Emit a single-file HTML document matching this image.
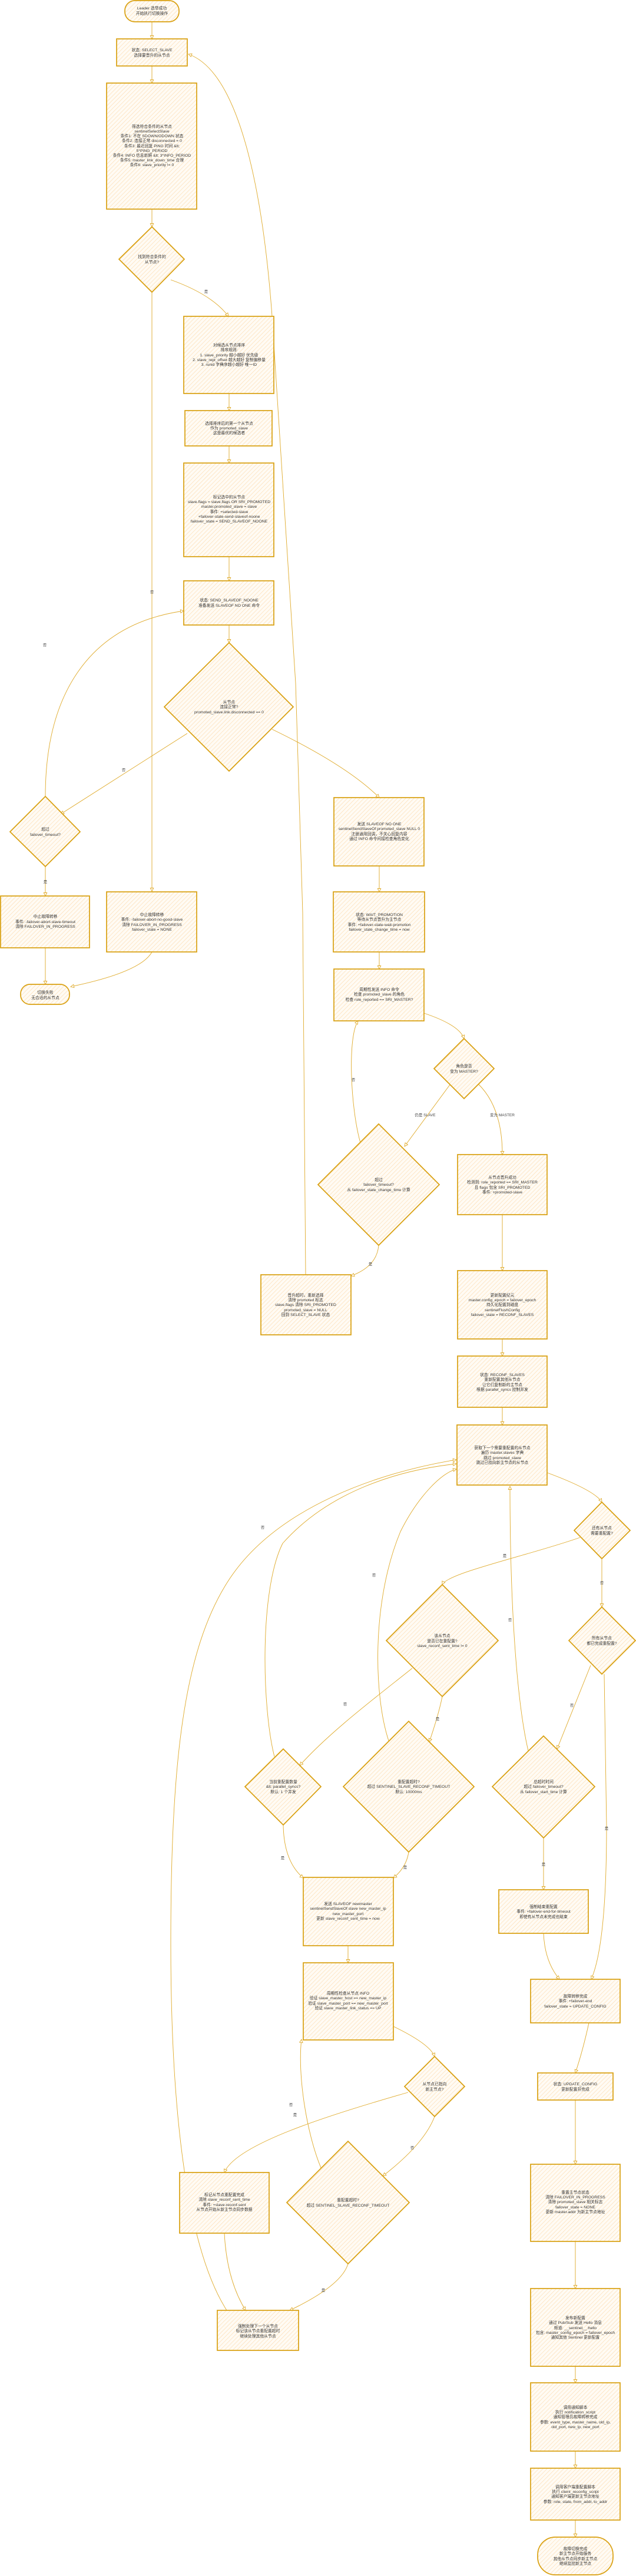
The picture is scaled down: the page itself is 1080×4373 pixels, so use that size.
<!DOCTYPE html>
<html><head><meta charset="utf-8">
<style>
html,body{margin:0;padding:0;background:#fff;}
svg{display:block;}
text{font-family:"Liberation Sans","Noto Sans CJK SC",sans-serif;font-size:6.8px;fill:#333;text-anchor:middle;}
.n{fill:url(#h);stroke:#d9a010;stroke-width:1.7;}
.e{fill:none;stroke:#dfaa2a;stroke-width:0.9;marker-end:url(#a);}
.l{font-size:6.5px;fill:#444;}
</style></head><body>
<svg width="1080" height="4373" viewBox="0 0 1080 4373" xmlns="http://www.w3.org/2000/svg">
<defs>
<pattern id="h" width="5" height="5" patternUnits="userSpaceOnUse" patternTransform="rotate(45)">
<rect width="5" height="5" fill="#fffbf4"/><line x1="0" y1="0" x2="0" y2="5" stroke="#fcdcb0" stroke-width="1.3"/>
</pattern>
<marker id="a" markerWidth="7" markerHeight="7" refX="6" refY="3.5" orient="auto" markerUnits="userSpaceOnUse">
<path d="M0.5,0.8 L6,3.5 L0.5,6.2 Z" fill="#fff" stroke="#dfaa2a" stroke-width="0.9"/>
</marker>
</defs>

<!-- EDGES -->
<path class="e" d="M258,37 L258,66"/>
<path class="e" d="M258,112 L258,141"/>
<path class="e" d="M258,355 L258,385"/>
<path class="e" d="M290,475 Q360,500 388,537"/><text class="l" x="350" y="497">是</text>
<path class="e" d="M258,496 L258,1513"/><text class="l" x="258" y="1007">否</text>
<path class="e" d="M389,668 L389,697"/>
<path class="e" d="M389,757 L389,786"/>
<path class="e" d="M389,945 L389,986"/>
<path class="e" d="M389,1061 L389,1091"/>
<path class="e" d="M318,1245 L103,1382"/><text class="l" x="210" y="1309">否</text>
<path class="e" d="M462,1238 Q590,1300 644,1354"/>
<path class="e" d="M77,1471 L77,1521"/><text class="l" x="77" y="1499">是</text>
<path class="e" d="M77,1352 C77,1180 150,1060 312,1037"/><text class="l" x="76" y="1097">否</text>
<path class="e" d="M77,1609 L77,1671"/>
<path class="e" d="M258,1616 Q240,1650 120,1675"/>
<path class="e" d="M644,1470 L644,1514"/>
<path class="e" d="M644,1616 L644,1645"/>
<path class="e" d="M720,1720 Q780,1740 788,1763"/>
<path class="e" d="M765,1840 L687,1946"/><text class="l" x="722" y="1895">仍是 SLAVE</text>
<path class="e" d="M812,1840 Q853,1880 853,1960"/><text class="l" x="853" y="1895">变为 MASTER</text>
<path class="e" d="M612,1940 C595,1880 590,1760 608,1733"/><text class="l" x="600" y="1835">否</text>
<path class="e" d="M643,2114 Q640,2150 596,2166"/><text class="l" x="629" y="2148">是</text>
<path class="e" d="M519,2164 L514,1550 L502,1160 L466,600 C450,300 400,120 320,92"/>
<path class="e" d="M853,2062 L853,2157"/>
<path class="e" d="M853,2273 L853,2302"/>
<path class="e" d="M853,2389 L853,2419"/>
<path class="e" d="M929,2500 Q1010,2530 1022,2550"/>
<path class="e" d="M985,2610 C900,2640 760,2670 751,2690"/><text class="l" x="857" y="2643">是</text>
<path class="e" d="M1022,2646 L1022,2728"/><text class="l" x="1022" y="2689">否</text>
<path class="e" d="M751,2880 Q745,2910 729,2957"/><text class="l" x="743" y="2920">是</text>
<path class="e" d="M700,2832 C640,2880 560,2940 509,2997"/><text class="l" x="586" y="2895">否</text>
<path class="e" d="M1003,2827 L946,2969"/><text class="l" x="971" y="2897">否</text>
<path class="e" d="M1026,2842 L1030,3100 Q1030,3300 1004,3360"/><text class="l" x="1030" y="3106">是</text>
<path class="e" d="M923,3120 L923,3208"/><text class="l" x="923" y="3167">是</text>
<path class="e" d="M897,2972 C880,2900 866,2750 866,2523"/><text class="l" x="866" y="2752">否</text>
<path class="e" d="M923,3282 Q925,3330 950,3360"/>
<path class="e" d="M481,3098 Q482,3160 515,3188"/><text class="l" x="480" y="3156">是</text>
<path class="e" d="M466,2982 C445,2900 440,2700 480,2620 C560,2530 680,2495 775,2485"/><text class="l" x="446" y="2595">否</text>
<path class="e" d="M694,3144 Q690,3170 668,3188"/><text class="l" x="688" y="3172">是</text>
<path class="e" d="M660,2955 C635,2880 630,2720 680,2600 C710,2540 750,2500 775,2494"/><text class="l" x="635" y="2676">否</text>
<path class="e" d="M591,3303 L591,3332"/>
<path class="e" d="M668,3440 Q730,3470 738,3491"/>
<path class="e" d="M693,3552 C560,3590 400,3640 381,3688"/><text class="l" x="501" y="3592">是</text>
<path class="e" d="M738,3593 Q720,3640 650,3694"/><text class="l" x="700" y="3648">否</text>
<path class="e" d="M545,3680 C520,3620 505,3520 512,3462"/><text class="l" x="494" y="3575">否</text>
<path class="e" d="M591,3843 Q580,3880 492,3922"/><text class="l" x="549" y="3890">是</text>
<path class="e" d="M381,3791 Q385,3870 417,3922"/>
<path class="e" d="M385,3922 C320,3820 290,3600 290,3300 C290,3000 310,2800 390,2680 C470,2560 640,2500 775,2478"/>
<path class="e" d="M1000,3434 Q990,3480 977,3519"/>
<path class="e" d="M977,3565 L977,3674"/>
<path class="e" d="M977,3805 L977,3885"/>
<path class="e" d="M977,4017 L977,4045"/>
<path class="e" d="M977,4161 L977,4190"/>
<path class="e" d="M977,4278 L977,4307"/>

<!-- NODES -->
<rect class="n" x="212" y="1" width="92" height="36" rx="17"/>
<text x="258" y="16">Leader 选举成功</text><text x="258" y="25">开始执行切换操作</text>

<rect class="n" x="198" y="66" width="120" height="46"/>
<text x="258" y="87">状态: SELECT_SLAVE</text><text x="258" y="96">选择要晋升的从节点</text>

<rect class="n" x="181" y="141" width="153" height="214"/>
<text x="258" y="217">筛选符合条件的从节点</text><text x="258" y="225">sentinelSelectSlave</text><text x="258" y="233">条件1: 不在 SDOWN/ODOWN 状态</text><text x="258" y="241">条件2: 连接正常 disconnected = 0</text><text x="258" y="250">条件3: 最近回复 PING 时间 &amp;lt;</text><text x="258" y="258">5*PING_PERIOD</text><text x="258" y="266">条件4: INFO 信息新鲜 &amp;lt; 3*INFO_PERIOD</text><text x="258" y="274">条件5: master_link_down_time 合理</text><text x="258" y="282">条件6: slave_priority != 0</text>

<polygon class="n" points="258,385 313,440 258,496 202,440"/>
<text x="258" y="438">找到符合条件的</text><text x="258" y="447">从节点?</text>

<rect class="n" x="312" y="537" width="153" height="131"/>
<text x="389" y="588">对候选从节点排序</text><text x="389" y="596">排序规则:</text><text x="389" y="605">1. slave_priority 越小越好 优先级</text><text x="389" y="613">2. slave_repl_offset 越大越好 复制偏移量</text><text x="389" y="621">3. runid 字典序越小越好 唯一ID</text>

<rect class="n" x="314" y="697" width="148" height="60"/>
<text x="389" y="721">选择排序后的第一个从节点</text><text x="389" y="729">作为 promoted_slave</text><text x="389" y="737">这是最优的候选者</text>

<rect class="n" x="312" y="786" width="153" height="159"/>
<text x="389" y="846">标记选中的从节点</text><text x="389" y="854">slave.flags = slave.flags OR SRI_PROMOTED</text><text x="389" y="862">master.promoted_slave = slave</text><text x="389" y="871">事件: +selected-slave</text><text x="389" y="879">+failover-state-send-slaveof-noone</text><text x="389" y="887">failover_state = SEND_SLAVEOF_NOONE</text>

<rect class="n" x="312" y="986" width="153" height="75"/>
<text x="389" y="1021">状态: SEND_SLAVEOF_NOONE</text><text x="389" y="1030">准备发送 SLAVEOF NO ONE 命令</text>

<polygon class="n" points="389,1091 498,1200 389,1309 279,1200"/>
<text x="389" y="1194">从节点</text><text x="389" y="1202">连接正常?</text><text x="389" y="1211">promoted_slave.link.disconnected == 0</text>

<polygon class="n" points="77,1352 136,1412 77,1471 17,1412"/>
<text x="77" y="1410">超过</text><text x="77" y="1419">failover_timeout?</text>

<rect class="n" x="1" y="1521" width="151" height="88"/>
<text x="77" y="1558">中止故障转移</text><text x="77" y="1567">事件: -failover-abort-slave-timeout</text><text x="77" y="1575">清除 FAILOVER_IN_PROGRESS</text>

<rect class="n" x="181" y="1514" width="153" height="102"/>
<text x="258" y="1555">中止故障转移</text><text x="258" y="1563">事件: -failover-abort-no-good-slave</text><text x="258" y="1572">清除 FAILOVER_IN_PROGRESS</text><text x="258" y="1580">failover_state = NONE</text>

<rect class="n" x="35" y="1671" width="83" height="34" rx="16"/>
<text x="77" y="1687">切换失败</text><text x="77" y="1696">无合适的从节点</text>

<rect class="n" x="567" y="1354" width="153" height="116"/>
<text x="644" y="1401">发送 SLAVEOF NO ONE</text><text x="644" y="1409">sentinelSendSlaveOf promoted_slave NULL 0</text><text x="644" y="1418">注册通用回调，不关心回复内容</text><text x="644" y="1426">通过 INFO 命令间接检查角色变化</text>

<rect class="n" x="566" y="1514" width="155" height="102"/>
<text x="644" y="1555">状态: WAIT_PROMOTION</text><text x="644" y="1563">等待从节点晋升为主节点</text><text x="644" y="1572">事件: +failover-state-wait-promotion</text><text x="644" y="1580">failover_state_change_time = now</text>

<rect class="n" x="567" y="1645" width="153" height="88"/>
<text x="644" y="1682">周期性发送 INFO 命令</text><text x="644" y="1690">检查 promoted_slave 的角色</text><text x="644" y="1699">检查 role_reported == SRI_MASTER?</text>

<polygon class="n" points="788,1763 839,1814 788,1865 737,1814"/>
<text x="788" y="1812">角色是否</text><text x="788" y="1821">变为 MASTER?</text>

<polygon class="n" points="643,1908 746,2011 643,2114 540,2011"/>
<text x="643" y="2005">超过</text><text x="643" y="2013">failover_timeout?</text><text x="643" y="2022">从 failover_state_change_time 计算</text>

<rect class="n" x="777" y="1960" width="152" height="102"/>
<text x="853" y="2001">从节点晋升成功</text><text x="853" y="2009">检测到: role_reported == SRI_MASTER</text><text x="853" y="2018">且 flags 包含 SRI_PROMOTED</text><text x="853" y="2026">事件: +promoted-slave</text>

<rect class="n" x="443" y="2164" width="153" height="102"/>
<text x="519" y="2201">晋升超时，重新选择</text><text x="519" y="2209">清除 promoted 标志</text><text x="519" y="2217">slave.flags 清除 SRI_PROMOTED</text><text x="519" y="2226">promoted_slave = NULL</text><text x="519" y="2234">回到 SELECT_SLAVE 状态</text>

<rect class="n" x="777" y="2157" width="152" height="116"/>
<text x="853" y="2201">更新配置纪元</text><text x="853" y="2209">master.config_epoch = failover_epoch</text><text x="853" y="2217">持久化配置到磁盘</text><text x="853" y="2226">sentinelFlushConfig</text><text x="853" y="2234">failover_state = RECONF_SLAVES</text>

<rect class="n" x="777" y="2302" width="152" height="87"/>
<text x="853" y="2336">状态: RECONF_SLAVES</text><text x="853" y="2344">重新配置其他从节点</text><text x="853" y="2353">让它们复制新的主节点</text><text x="853" y="2361">根据 parallel_syncs 控制并发</text>

<rect class="n" x="776" y="2419" width="153" height="102"/>
<text x="853" y="2460">获取下一个需要重配置的从节点</text><text x="853" y="2468">遍历 master.slaves 字典</text><text x="853" y="2477">跳过 promoted_slave</text><text x="853" y="2485">跳过已指向新主节点的从节点</text>

<polygon class="n" points="1022,2550 1070,2598 1022,2646 975,2598"/>
<text x="1022" y="2596">还有从节点</text><text x="1022" y="2605">需要重配置?</text>

<polygon class="n" points="751,2690 846,2785 751,2880 656,2785"/>
<text x="751" y="2779">该从节点</text><text x="751" y="2788">是否已在重配置?</text><text x="751" y="2796">slave_reconf_sent_time != 0</text>

<polygon class="n" points="1022,2728 1079,2785 1022,2842 966,2785"/>
<text x="1022" y="2783">所有从节点</text><text x="1022" y="2792">都已完成重配置?</text>

<polygon class="n" points="481,2969 545,3033 481,3098 416,3033"/>
<text x="481" y="3027">当前重配置数量</text><text x="481" y="3035">&amp;lt; parallel_syncs?</text><text x="481" y="3044">默认: 1 个并发</text>

<polygon class="n" points="694,2922 805,3033 694,3144 583,3033"/>
<text x="694" y="3027">重配置超时?</text><text x="694" y="3035">超过 SENTINEL_SLAVE_RECONF_TIMEOUT</text><text x="694" y="3044">默认: 10000ms</text>

<polygon class="n" points="923,2947 1010,3033 923,3120 836,3033"/>
<text x="923" y="3027">总超时时间</text><text x="923" y="3035">超过 failover_timeout?</text><text x="923" y="3044">从 failover_start_time 计算</text>

<rect class="n" x="515" y="3187" width="153" height="116"/>
<text x="591" y="3234">发送 SLAVEOF newmaster</text><text x="591" y="3242">sentinelSendSlaveOf slave new_master_ip</text><text x="591" y="3251">new_master_port</text><text x="591" y="3259">更新 slave_reconf_sent_time = now</text>

<rect class="n" x="515" y="3332" width="153" height="131"/>
<text x="591" y="3386">周期性检查从节点 INFO</text><text x="591" y="3394">验证 slave_master_host == new_master_ip</text><text x="591" y="3403">验证 slave_master_port == new_master_port</text><text x="591" y="3411">验证 slave_master_link_status == UP</text>

<rect class="n" x="847" y="3208" width="152" height="74"/>
<text x="923" y="3239">强制结束重配置</text><text x="923" y="3247">事件: +failover-end-for-timeout</text><text x="923" y="3256">即使有从节点未完成也结束</text>

<rect class="n" x="901" y="3360" width="152" height="74"/>
<text x="977" y="3391">故障转移完成</text><text x="977" y="3399">事件: +failover-end</text><text x="977" y="3408">failover_state = UPDATE_CONFIG</text>

<polygon class="n" points="738,3491 789,3542 738,3593 687,3542"/>
<text x="738" y="3540">从节点已指向</text><text x="738" y="3549">新主节点?</text>

<rect class="n" x="305" y="3688" width="152" height="103"/>
<text x="381" y="3728">标记从节点重配置完成</text><text x="381" y="3736">清除 slave_reconf_sent_time</text><text x="381" y="3745">事件: +slave-reconf-sent</text><text x="381" y="3753">从节点开始从新主节点同步数据</text>

<polygon class="n" points="591,3635 695,3739 591,3843 487,3739"/>
<text x="591" y="3737">重配置超时?</text><text x="591" y="3746">超过 SENTINEL_SLAVE_RECONF_TIMEOUT</text>

<rect class="n" x="369" y="3922" width="138" height="68"/>
<text x="438" y="3951">强制处理下一个从节点</text><text x="438" y="3959">标记该从节点重配置超时</text><text x="438" y="3968">继续处理其他从节点</text>

<rect class="n" x="913" y="3519" width="128" height="46"/>
<text x="977" y="3540">状态: UPDATE_CONFIG</text><text x="977" y="3549">更新配置并完成</text>

<rect class="n" x="901" y="3674" width="152" height="131"/>
<text x="977" y="3724">重置主节点状态</text><text x="977" y="3732">清除 FAILOVER_IN_PROGRESS</text><text x="977" y="3740">清除 promoted_slave 相关标志</text><text x="977" y="3749">failover_state = NONE</text><text x="977" y="3757">更新 master.addr 为新主节点地址</text>

<rect class="n" x="901" y="3885" width="152" height="132"/>
<text x="977" y="3937">发布新配置</text><text x="977" y="3945">通过 Pub/Sub 发送 Hello 消息</text><text x="977" y="3954">频道: __sentinel__:hello</text><text x="977" y="3962">包含: master_config_epoch = failover_epoch</text><text x="977" y="3970">通知其他 Sentinel 更新配置</text>

<rect class="n" x="901" y="4045" width="152" height="116"/>
<text x="977" y="4089">调用通知脚本</text><text x="977" y="4097">执行 notification_script</text><text x="977" y="4105">通知管理员故障转移完成</text><text x="977" y="4114">参数: event_type, master_name, old_ip,</text><text x="977" y="4122">old_port, new_ip, new_port</text>

<rect class="n" x="901" y="4190" width="152" height="88"/>
<text x="977" y="4224">调用客户端重配置脚本</text><text x="977" y="4232">执行 client_reconfig_script</text><text x="977" y="4240">通知客户端更新主节点地址</text><text x="977" y="4249">参数: role, state, from_addr, to_addr</text>

<rect class="n" x="913" y="4307" width="128" height="64" rx="30"/>
<text x="977" y="4329">故障切换完成</text><text x="977" y="4337">新主节点开始服务</text><text x="977" y="4346">其他从节点同步新主节点</text><text x="977" y="4354">继续监控新主节点</text>
</svg>
</body></html>
